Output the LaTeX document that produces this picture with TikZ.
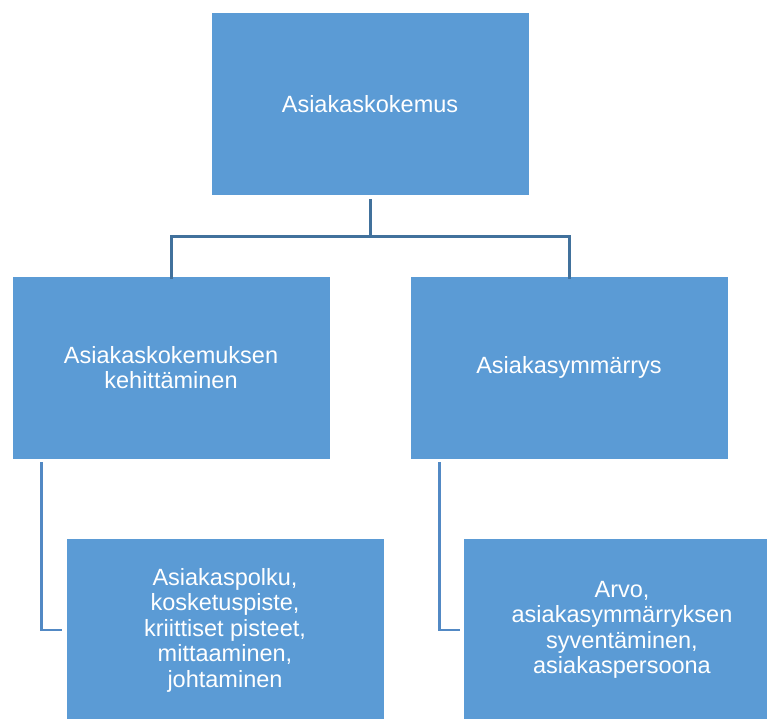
\documentclass[tikz,border=0pt]{standalone}
\usepackage{fontspec}
\setmainfont{Liberation Sans}
\usepackage{xcolor}
\definecolor{boxblue}{HTML}{5B9BD5}
\definecolor{topline}{HTML}{41719C}
\definecolor{subline}{HTML}{5289C4}
\usetikzlibrary{positioning}

\begin{document}
\begin{tikzpicture}[x=1pt, y=-1pt,
    topic/.style={rectangle, fill=boxblue, draw=white, line width=0.6pt,
      minimum width=318pt, minimum height=183pt, align=center,
      text=white, font=\fontsize{23.5}{25.5}\selectfont},
    mainlink/.style={draw=topline, line width=3pt},
    sublink/.style={draw=subline, line width=2.8pt}]
  \useasboundingbox (0,0) rectangle (767,718);
  \clip (0,0) rectangle (767,718);

  % boxes
  \node[topic] (ak) at (370,104) {Asiakaskokemus};
  \node[topic] (kehitys) at (171,367.5) {Asiakaskokemuksen\\kehittäminen};
  \node[topic] (ymmarrys) at (569,367.5) {Asiakasymmärrys};
  \node[topic] (polku) at (225,630) {Asiakaspolku,\\kosketuspiste,\\kriittiset pisteet,\\mittaaminen,\\johtaminen};
  \node[topic] (arvo) at (622,630) {Arvo,\\asiakasymmärryksen\\syventäminen,\\asiakaspersoona};

  % connectors
  \coordinate (split) at ([yshift=-41pt]ak.south);
  \draw[mainlink] ([yshift=-3pt]ak.south) -- (split);
  \draw[mainlink] (split) -| ([yshift=-3pt]kehitys.north);
  \draw[mainlink] (split) -| ([yshift=-3pt]ymmarrys.north);

  \draw[sublink] ([xshift=30pt,yshift=-3pt]kehitys.south west) |- ([xshift=-4pt]polku.west);
  \draw[sublink] ([xshift=30pt,yshift=-3pt]ymmarrys.south west) |- ([xshift=-3pt]arvo.west);
\end{tikzpicture}
\end{document}
